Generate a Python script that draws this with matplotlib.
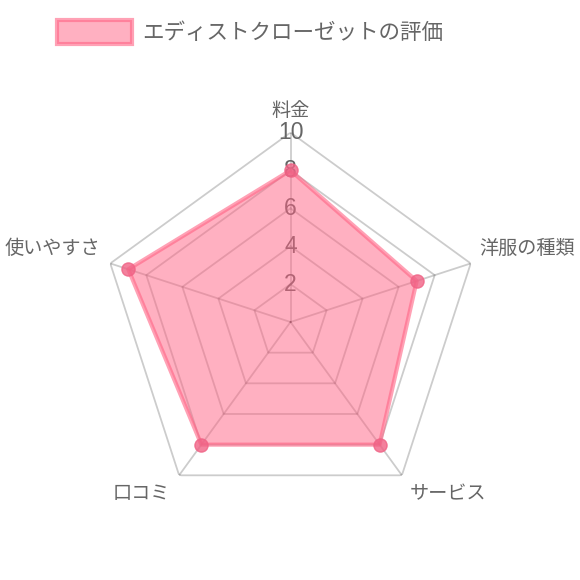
import numpy as np
import matplotlib.pyplot as plt
from matplotlib.patches import Patch

labels = ["料金", "洋服の種類", "サービス", "口コミ", "使いやすさ"]
scores = [8, 7, 8, 8, 9]
ticks = [2, 4, 6, 8, 10]
series_name = "エディストクローゼットの評価"

JP = ["Noto Sans CJK JP", "DejaVu Sans"]
FILL = (1.0, 99/255, 132/255, 0.5)
LINE = (1.0, 99/255, 132/255, 0.6)
POINT = (240/255, 98/255, 133/255, 0.8)
GRID = (0, 0, 0, 0.2)
TXT = "#666666"

fig = plt.figure(figsize=(5.8, 5.8), dpi=100)
W = 580.0
cx, cy, R = 290.5, 322.0, 189.5
ax = fig.add_axes([(cx - R) / W, (W - cy - R) / W, 2 * R / W, 2 * R / W], projection="polar")
ax.set_theta_offset(np.pi / 2)
ax.set_theta_direction(-1)
ax.set_ylim(0, 10)
ax.set_xticks([])
ax.set_yticks([])
ax.grid(False)
ax.spines["polar"].set_visible(False)
ax.patch.set_alpha(0)

n = len(labels)
angles = np.linspace(0, 2 * np.pi, n, endpoint=False)
closed = np.r_[angles, angles[:1]]

# grid rings and spokes
for t in ticks:
    ax.plot(closed, [t] * (n + 1), color=GRID, lw=1.3, zorder=1)
for a in angles:
    ax.plot([a, a], [0, 10], color=GRID, lw=1.3, zorder=1)

# tick labels up the top spoke
for t in ticks:
    ax.text(0, t, str(t), ha="center", va="center", fontsize=16.5,
            family=["Liberation Sans", "DejaVu Sans"], color=TXT, zorder=2)

# dataset
vals = np.r_[scores, scores[:1]]
ax.fill(closed, vals, color=FILL, lw=0, zorder=3)
ax.plot(closed, vals, color=LINE, lw=3, zorder=4)
ax.scatter(angles, scores, s=90, color=POINT, edgecolor=POINT, lw=1, zorder=5)

# point labels (offsets in pixels from the outer vertex)
offsets = [(0, 22.5, "center"), (9, 15, "left"), (8, -18, "left"),
           (-9, -18, "right"), (-10, 15, "right")]
for a, lab, (dx, dy, ha) in zip(angles, labels, offsets):
    ax.annotate(lab, xy=(a, 10), xytext=(dx, dy), textcoords="offset pixels",
                ha=ha, va="center", fontsize=13.8, family=JP, color=TXT,
                annotation_clip=False)

handle = Patch(facecolor=FILL, edgecolor=LINE, lw=3)
leg = fig.legend([handle], [series_name], loc="upper left",
                 bbox_to_anchor=(57 / W, 1 - 20 / W), frameon=False,
                 borderpad=0, borderaxespad=0, handlelength=3.5, handleheight=1.35,
                 handletextpad=0.45, prop={"family": JP, "size": 15.5})
for txt in leg.get_texts():
    txt.set_color(TXT)

fig.savefig("out.png", dpi=100)
